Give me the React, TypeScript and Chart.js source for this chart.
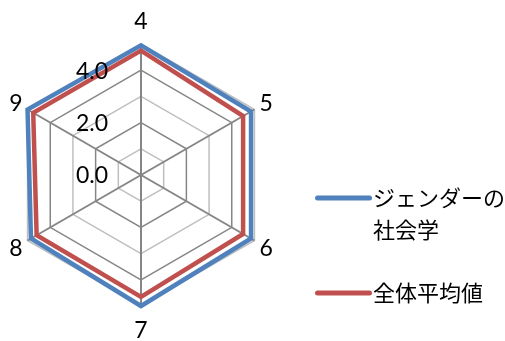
import React, { useEffect, useRef } from 'react';
import { Chart, registerables } from 'chart.js';

Chart.register(...registerables);

// ---- data ----
const CATEGORIES = ['4', '5', '6', '7', '8', '9'];
const SERIES_NAMES = ['ジェンダーの社会学', '全体平均値'];
const LEGEND_LINES = [['ジェンダーの', '社会学'], ['全体平均値']];
const GENDER_VALUES = [4.95, 4.85, 4.85, 5.0, 4.85, 5.0];
const AVERAGE_VALUES = [4.75, 4.5, 4.5, 4.65, 4.6, 4.75];
const SERIES_COLORS = ['#4F81BD', '#C0504D'];
const TICK_VALUES = [0, 2, 4];
const TICK_LABELS = ['0.0', '2.0', '4.0'];
const AXIS_MIN = 0;
const AXIS_MAX = 5;
const AXIS_STEP = 1;

const NUM_FONT = '23px Lato, "Liberation Sans", sans-serif';
const CJK_FONT = '22px "Noto Sans CJK JP", sans-serif';

const excelLabels = {
  id: 'excelLabels',
  afterDraw(chart: any) {
    const scale = chart.scales.r;
    const ctx = chart.ctx as CanvasRenderingContext2D;
    ctx.save();
    ctx.fillStyle = '#000000';
    ctx.font = NUM_FONT;
    ctx.textBaseline = 'middle';

    // value axis labels, left of the vertical spoke
    ctx.textAlign = 'right';
    TICK_VALUES.forEach((v, i) => {
      const y = scale.yCenter - scale.getDistanceFromCenterForValue(v);
      ctx.fillText(TICK_LABELS[i], scale.xCenter - 33, y + 1);
    });

    // category labels
    ctx.textAlign = 'center';
    CATEGORIES.forEach((c, i) => {
      const angle = scale.getIndexAngle(i);
      const vertical = Math.abs(Math.cos(angle)) > 0.99;
      const p = scale.getPointPosition(i, scale.drawingArea + (vertical ? 23.5 : 13.5));
      ctx.fillText(c, p.x, p.y + 1);
    });

    // legend
    const legendY = [198, 293];
    chart.data.datasets.forEach((ds: any, i: number) => {
      ctx.beginPath();
      ctx.strokeStyle = ds.borderColor;
      ctx.lineWidth = 5;
      ctx.lineCap = 'round';
      ctx.moveTo(317.5, legendY[i]);
      ctx.lineTo(369.5, legendY[i]);
      ctx.stroke();
      ctx.font = CJK_FONT;
      ctx.textAlign = 'left';
      ctx.fillStyle = '#000000';
      LEGEND_LINES[i].forEach((t, j) => {
        ctx.fillText(t, 373, legendY[i] + j * 32);
      });
    });
    ctx.restore();
  },
};

export default function App() {
  const ref = useRef<HTMLCanvasElement | null>(null);

  useEffect(() => {
    if (!ref.current) return;
    const chart = new Chart(ref.current, {
      type: 'radar',
      data: {
        labels: CATEGORIES,
        datasets: [
          {
            label: SERIES_NAMES[0],
            data: GENDER_VALUES,
            borderColor: SERIES_COLORS[0],
            backgroundColor: 'transparent',
            borderWidth: 4.5,
            pointRadius: 0,
            fill: false,
          },
          {
            label: SERIES_NAMES[1],
            data: AVERAGE_VALUES,
            borderColor: SERIES_COLORS[1],
            backgroundColor: 'transparent',
            borderWidth: 4.5,
            pointRadius: 0,
            fill: false,
          },
        ],
      },
      options: {
        responsive: false,
        animation: false,
        layout: { padding: { left: 10, top: 44, right: 233, bottom: 35 } },
        plugins: { legend: { display: false }, tooltip: { enabled: false } },
        scales: {
          r: {
            min: AXIS_MIN,
            max: AXIS_MAX,
            beginAtZero: true,
            ticks: { stepSize: AXIS_STEP, display: false },
            pointLabels: { display: false },
            grid: {
              color: (c: any) => (c.tick && c.tick.value % 2 === 0 ? '#868686' : '#BFBFBF'),
              lineWidth: 1.5,
            },
            angleLines: { color: '#868686', lineWidth: 2 },
          },
        },
      },
      plugins: [excelLabels],
    });
    return () => chart.destroy();
  }, []);

  return (
    <div style={{ position: 'absolute', left: 0, top: 0, width: 505, height: 341, background: '#fff' }}>
      <canvas ref={ref} width={505} height={341} />
    </div>
  );
}
